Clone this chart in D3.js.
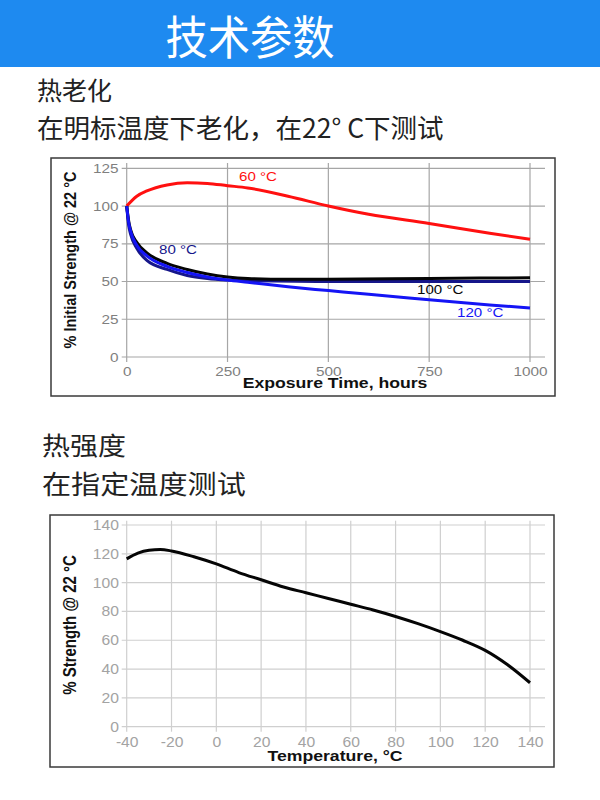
<!DOCTYPE html>
<html>
<head>
<meta charset="utf-8">
<script src="https://cdn.jsdelivr.net/npm/d3@7"></script>
<style>
  body { margin: 0; background: #fff; }
  svg { display: block; }
</style>
</head>
<body>
<div id="page"></div>
<script>
// heat aging: % initial strength vs exposure hours
const hourTicks = [0, 250, 500, 750, 1000]
const agingTicks = [0, 25, 50, 75, 100, 125]

const aging60 = [[0, 100], [25, 106.5], [50, 110], [100, 114], [150, 115.5], [200, 115], [250, 113.5],
  [300, 112], [400, 106.5], [500, 100], [600, 94.5], [750, 88.5], [900, 82], [1000, 78]]
const aging80 = [[0, 100], [5, 87], [10, 81], [25, 72], [50, 64], [100, 58], [150, 54], [200, 52],
  [250, 51], [300, 50.5], [500, 50], [750, 50], [1000, 50]]
const aging100 = [[0, 100], [5, 90], [10, 84], [25, 76], [50, 69], [100, 62], [150, 58], [200, 55],
  [250, 53], [300, 52], [400, 51.5], [500, 51.5], [750, 52], [1000, 52.5]]
const aging120 = [[0, 100], [5, 89], [10, 83], [25, 74], [50, 67], [100, 60], [150, 56], [200, 53],
  [250, 51], [300, 49.5], [400, 46.5], [500, 44], [600, 41.5], [750, 38], [900, 34.5], [1000, 32.5]]

// heat strength: % strength vs test temperature
const tempTicks = [-40, -20, 0, 20, 40, 60, 80, 100, 120, 140]
const strengthTicks = [0, 20, 40, 60, 80, 100, 120, 140]
const strengthByTemp = [[-40, 116.5], [-35, 120.5], [-30, 122.5], [-25, 123], [-20, 122], [-10, 118],
  [0, 113], [10, 107], [20, 102], [30, 97], [40, 93], [50, 89], [60, 85], [70, 81], [80, 76.5],
  [90, 71.5], [100, 66], [110, 60], [120, 53], [130, 43], [140, 30.5]]

const svg = d3.select('#page')
  .append('svg')
  .attr('width', 600)
  .attr('height', 800)

const cjk = '"Noto Sans CJK SC", sans-serif'
const latin = '"Liberation Sans", Arial, sans-serif'

// header bar
svg.append('rect')
  .attr('x', 0).attr('y', 0)
  .attr('width', 600).attr('height', 67)
  .attr('fill', '#1e8af0')

svg.append('text')
  .text('技术参数')
  .attr('transform', 'translate(250,54) scale(0.92,1)')
  .attr('text-anchor', 'middle')
  .attr('font-family', cjk)
  .attr('font-size', 46)
  .attr('fill', '#fff')

function heading(txt, x, y, size, stretch) {
  svg.append('text')
    .text(txt)
    .attr('transform', `translate(${x},${y}) scale(${stretch},1)`)
    .attr('font-family', cjk)
    .attr('font-size', size)
    .attr('fill', '#222')
}

heading('热老化', 37, 100, 25, 1)
heading('在明标温度下老化，在22° C下测试', 37, 138, 26.5, 1)
heading('热强度', 42, 455, 25, 1.12)
heading('在指定温度测试', 42, 494, 26, 1.12)

function drawChart(opt) {
  const g = svg.append('g')

  g.append('rect')
    .attr('x', opt.frame[0]).attr('y', opt.frame[1])
    .attr('width', opt.frame[2]).attr('height', opt.frame[3])
    .attr('fill', '#fff')
    .attr('stroke', '#3a3a3a')
    .attr('stroke-width', 1.5)

  const x = d3.scaleLinear().domain(opt.xDomain).range([126.7, 530])
  const y = d3.scaleLinear().domain(opt.yDomain).range(opt.yRange)

  // grid
  g.append('g')
    .selectAll('line')
    .data(opt.xTicks)
    .enter()
    .append('line')
    .attr('x1', d => x(d)).attr('x2', d => x(d))
    .attr('y1', opt.gridTop).attr('y2', y(opt.yDomain[0]) + 5)
    .attr('stroke', opt.gridColor)
    .attr('stroke-width', 1.2)

  g.append('g')
    .selectAll('line')
    .data(opt.yTicks)
    .enter()
    .append('line')
    .attr('x1', x(opt.xDomain[0]) - 5).attr('x2', 545)
    .attr('y1', d => y(d)).attr('y2', d => y(d))
    .attr('stroke', opt.gridColor)
    .attr('stroke-width', 1.2)

  // axes (labels only, grid drawn above)
  const xAxis = d3.axisBottom(x).tickValues(opt.xTicks).tickFormat(d => String(d)).tickSize(0).tickPadding(0)
  g.append('g')
    .attr('transform', `translate(0,${y(opt.yDomain[0])})`)
    .call(xAxis)
    .call(a => a.select('.domain').remove())
    .selectAll('.tick text')
    .attr('y', opt.xLabelDy)
    .attr('dy', 0)
    .attr('transform', `scale(${opt.tickStretch},1)`)
    .attr('font-family', latin)
    .attr('font-size', opt.tickSize)
    .attr('fill', opt.tickColor)

  const yAxis = d3.axisLeft(y).tickValues(opt.yTicks).tickFormat(d => String(d)).tickSize(0).tickPadding(0)
  g.append('g')
    .attr('transform', `translate(${x(opt.xDomain[0])},0)`)
    .call(yAxis)
    .call(a => a.select('.domain').remove())
    .selectAll('.tick text')
    .attr('x', -7)
    .attr('transform', `scale(${opt.tickStretch},1)`)
    .attr('font-family', latin)
    .attr('font-size', opt.tickSize)
    .attr('fill', opt.tickColor)

  const line = d3.line()
    .x(d => x(d[0]))
    .y(d => y(d[1]))
    .curve(d3.curveMonotoneX)

  opt.series.forEach(s => {
    g.append('path')
      .datum(s.values)
      .attr('d', line)
      .attr('fill', 'none')
      .attr('stroke', s.color)
      .attr('stroke-width', 3)
      .attr('stroke-linejoin', 'round')
  })

  ;(opt.labels || []).forEach(l => {
    g.append('text')
      .text(l.text)
      .attr('transform', `translate(${l.x},${l.y}) scale(1.12,1)`)
      .attr('font-family', latin)
      .attr('font-size', 13.5)
      .attr('fill', l.color)
  })

  g.append('text')
    .text(opt.xTitle)
    .attr('transform', `translate(335,${opt.xTitleY}) scale(1.2,1)`)
    .attr('text-anchor', 'middle')
    .attr('font-family', latin)
    .attr('font-weight', 'bold')
    .attr('font-size', 14.7)
    .attr('fill', '#111')

  g.append('text')
    .text(opt.yTitle)
    .attr('transform', `translate(76,${opt.yTitleY}) rotate(-90) scale(1,1.2)`)
    .attr('text-anchor', 'middle')
    .attr('font-family', latin)
    .attr('font-weight', 'bold')
    .attr('font-size', opt.yTitleSize)
    .attr('fill', '#111')
}

drawChart({
  frame: [51, 158, 504, 238],
  xDomain: [0, 1000],
  yDomain: [0, 125],
  yRange: [357, 168.3],
  xTicks: hourTicks,
  yTicks: agingTicks,
  gridTop: 163,
  gridColor: '#a6a6a6',
  tickColor: '#7f7f7f',
  tickSize: 13,
  tickStretch: 1.18,
  xLabelDy: 19,
  series: [
    { values: aging60, color: '#ff1010' },
    { values: aging80, color: '#16168a' },
    { values: aging100, color: '#050505' },
    { values: aging120, color: '#1414f5' }
  ],
  labels: [
    { text: '60 °C', x: 239, y: 181, color: '#ff1010' },
    { text: '80 °C', x: 159, y: 254, color: '#16168a' },
    { text: '100 °C', x: 417, y: 294, color: '#050505' },
    { text: '120 °C', x: 457, y: 317, color: '#1414f5' }
  ],
  xTitle: 'Exposure Time, hours',
  xTitleY: 388,
  yTitle: '% Initial Strength @ 22 °C',
  yTitleY: 260,
  yTitleSize: 14.5
})

drawChart({
  frame: [50, 515, 504, 252],
  xDomain: [-40, 140],
  yDomain: [0, 140],
  yRange: [726.7, 525],
  xTicks: tempTicks,
  yTicks: strengthTicks,
  gridTop: 520.7,
  gridColor: '#cfcfcf',
  tickColor: '#a3a3a3',
  tickSize: 14,
  tickStretch: 1.12,
  xLabelDy: 20,
  series: [
    { values: strengthByTemp, color: '#050505' }
  ],
  xTitle: 'Temperature, °C',
  xTitleY: 761,
  yTitle: '% Strength @ 22 °C',
  yTitleY: 625,
  yTitleSize: 15
})
</script>
</body>
</html>
